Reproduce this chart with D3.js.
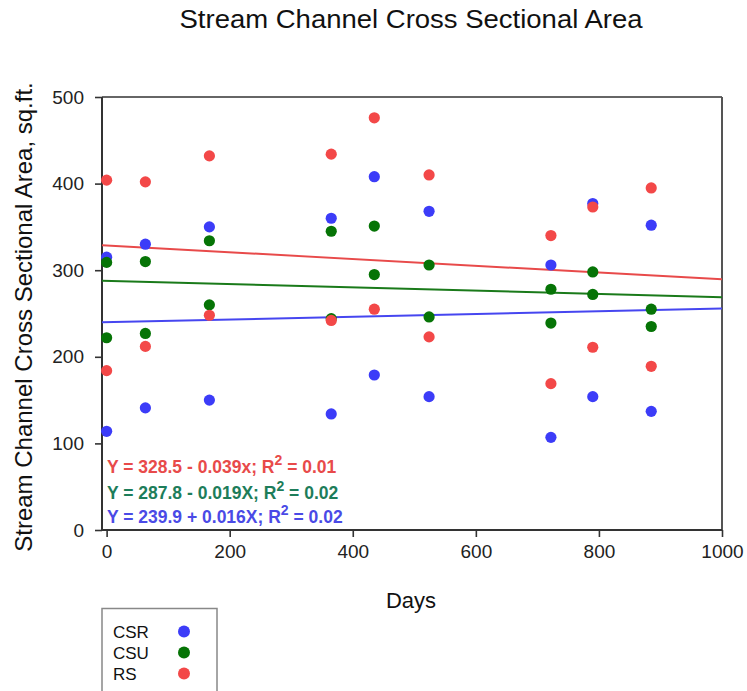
<!DOCTYPE html>
<html>
<head>
<meta charset="utf-8">
<script src="https://cdn.jsdelivr.net/npm/d3@7"></script>
<style>
  html, body { margin: 0; padding: 0; background: #fff; }
  svg { display: block; font-family: "Liberation Sans", Arial, sans-serif; }
</style>
</head>
<body>
<svg id="chart" width="747" height="691"></svg>
<script>
// Sampling dates (days) and two cross-section measurements per site on each date
const days = [0, 63, 167, 365, 435, 524, 722, 790, 885];
const csrA = [315, 330, 350, 360, 408, 368, 306, 377, 352];
const csrB = [114, 141, 150, 134, 179, 154, 107, 154, 137];
const csuA = [309, 310, 334, 345, 351, 306, 278, 298, 255];
const csuB = [222, 227, 260, 244, 295, 246, 239, 272, 235];
const rsA  = [404, 402, 432, 434, 476, 410, 340, 373, 395];
const rsB  = [184, 212, 248, 242, 255, 223, 169, 211, 189];

// Fitted lines: intercept, slope, R²
const fitRS  = { b0: 328.5, b1: -0.039, r2: "0.01", sign: "-", x: "x" };
const fitCSU = { b0: 287.8, b1: -0.019, r2: "0.02", sign: "-", x: "X" };
const fitCSR = { b0: 239.9, b1: 0.016,  r2: "0.02", sign: "+", x: "X" };

const xTicks = [0, 200, 400, 600, 800, 1000];
const yTicks = [0, 100, 200, 300, 400, 500];
const legendNames = ["CSR", "CSU", "RS"];

const colors = { CSR: "#3c3cf8", CSU: "#067406", RS: "#f34848" };
const lineColors = { CSR: "#4646f0", CSU: "#1a7a1a", RS: "#e84a4a" };
const eqColors = { CSR: "#4a4ae6", CSU: "#1d7d5a", RS: "#e84a4a" };

const svg = d3.select("#chart");
const plotLeft = 102, plotRight = 722, plotTop = 97, plotBottom = 530;

const x = d3.scaleLinear().domain([-7.5, 1000]).range([plotLeft, plotRight]);
const y = d3.scaleLinear().domain([0, 500]).range([plotBottom, plotTop]);

// Title
svg.append("text")
  .attr("x", 411).attr("y", 28)
  .attr("text-anchor", "middle")
  .attr("font-size", 26)
  .attr("textLength", 463).attr("lengthAdjust", "spacingAndGlyphs")
  .attr("fill", "#111")
  .text("Stream Channel Cross Sectional Area");

// Frame (top and right)
svg.append("line").attr("x1", plotLeft).attr("x2", plotRight).attr("y1", plotTop).attr("y2", plotTop)
  .attr("stroke", "#666").attr("stroke-width", 2);
svg.append("line").attr("x1", plotRight).attr("x2", plotRight).attr("y1", plotTop).attr("y2", plotBottom)
  .attr("stroke", "#555").attr("stroke-width", 2);

// Axes
const xAxis = svg.append("g").attr("transform", `translate(0,${plotBottom})`)
  .call(d3.axisBottom(x).tickValues(xTicks).tickFormat(d3.format("d"))
    .tickSize(7).tickPadding(8).tickSizeOuter(0));
const yAxis = svg.append("g").attr("transform", `translate(${plotLeft},0)`)
  .call(d3.axisLeft(y).tickValues(yTicks).tickFormat(d3.format("d"))
    .tickSize(7).tickPadding(11).tickSizeOuter(0));

[xAxis, yAxis].forEach(g => {
  g.select(".domain").attr("stroke", "#333").attr("stroke-width", 2);
  g.selectAll(".tick line").attr("stroke", "#333").attr("stroke-width", 1.6);
  g.selectAll(".tick text").attr("font-size", 19).attr("fill", "#222")
    .attr("font-family", "Liberation Sans, Arial, sans-serif");
});
xAxis.select(".domain").attr("d", `M${plotLeft},0H${plotRight}`);
yAxis.select(".domain").attr("d", `M0,${plotBottom}V${plotTop}`);

// Axis titles
svg.append("text")
  .attr("x", 411).attr("y", 608)
  .attr("text-anchor", "middle").attr("font-size", 22).attr("fill", "#111")
  .text("Days");
svg.append("text")
  .attr("transform", "translate(32,317) rotate(-90)")
  .attr("text-anchor", "middle").attr("font-size", 24).attr("fill", "#111")
  .text("Stream Channel Cross Sectional Area, sq.ft.");

// Regression lines
const fits = [["RS", fitRS], ["CSU", fitCSU], ["CSR", fitCSR]];
const line = d3.line().x(d => x(d[0])).y(d => y(d[1]));
fits.forEach(([name, f]) => {
  const xs = x.domain();
  svg.append("path")
    .attr("d", line(xs.map(v => [v, f.b0 + f.b1 * v])))
    .attr("fill", "none").attr("stroke", lineColors[name]).attr("stroke-width", 2);
});

// Points (CSR under CSU under RS)
const series = [
  ["CSR", [csrA, csrB]],
  ["CSU", [csuA, csuB]],
  ["RS",  [rsA, rsB]]
];
series.forEach(([name, sets]) => {
  const pts = [];
  sets.forEach(arr => arr.forEach((v, i) => pts.push([days[i], v])));
  svg.append("g").selectAll("circle").data(pts).join("circle")
    .attr("cx", d => x(d[0])).attr("cy", d => y(d[1]))
    .attr("r", 5.6).attr("fill", colors[name]);
});

// Regression equations
const eqRows = [["RS", fitRS, 473], ["CSU", fitCSU, 498.5], ["CSR", fitCSR, 523]];
eqRows.forEach(([name, f, yy]) => {
  const t = svg.append("text")
    .attr("x", 107).attr("y", yy)
    .attr("font-size", 17.5).attr("font-weight", "bold").attr("fill", eqColors[name]);
  t.append("tspan").text(`Y = ${f.b0.toFixed(1)} ${f.sign} ${Math.abs(f.b1).toFixed(3)}${f.x}; R`);
  t.append("tspan").attr("dy", -8).attr("font-size", 14).text("2");
  t.append("tspan").attr("dy", 8).text(` = ${f.r2}`);
});

// Legend
svg.append("rect")
  .attr("x", 102).attr("y", 608.5).attr("width", 115).attr("height", 100)
  .attr("fill", "#fff").attr("stroke", "#888").attr("stroke-width", 1.5);
legendNames.forEach((name, i) => {
  const cy = 631.5 + i * 21;
  svg.append("text").attr("x", 113).attr("y", cy + 6.2)
    .attr("font-size", 17).attr("fill", "#111").text(name);
  svg.append("circle").attr("cx", 184).attr("cy", cy).attr("r", 6).attr("fill", colors[name]);
});
</script>
</body>
</html>
